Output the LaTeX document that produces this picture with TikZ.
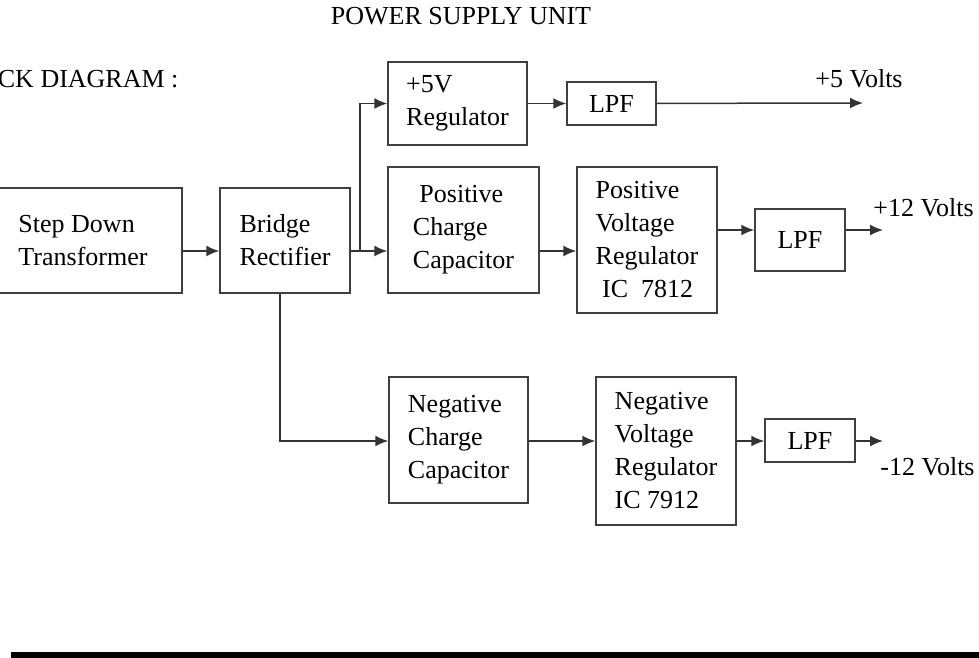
\documentclass[tikz,border=0pt]{standalone}
\usepackage{fontspec}
\setmainfont{Liberation Serif}
\usetikzlibrary{arrows.meta}

\begin{document}
\begin{tikzpicture}[x=1pt, y=-1pt, >={Latex[length=13pt,width=11pt]},
  font=\fontsize{26}{33}\selectfont,
  box/.style={draw=black!75, line width=1.5pt, align=left, inner sep=0pt},
  wire/.style={draw=black!80, line width=1.5pt}]
\useasboundingbox (0,0) rectangle (979,658);
\node (title) [anchor=base] at (461,25) {POWER SUPPLY UNIT};
\node (bd) [anchor=base east] at (182,88) {BLOCK DIAGRAM :};

\node (T) [box, minimum width=198pt, minimum height=105pt] at (83,240.5) {Step Down\\Transformer};
\node (B) [box, minimum width=130pt, minimum height=105pt] at (285,240.5) {Bridge\\Rectifier};
\node (R5) [box, minimum width=139pt, minimum height=83pt] at (457.5,103.5) {+5V\\Regulator};
\node (L5) [box, minimum width=89pt, minimum height=43pt] at (611.5,103.5) {LPF};
\node (PC) [box, minimum width=151pt, minimum height=126pt] at (463.5,230) {\ Positive\\Charge\\Capacitor};
\node (PR) [box, minimum width=140pt, minimum height=146pt] at (647,240) {Positive\\Voltage\\Regulator\\\ IC\ \ 7812};
\node (L12) [box, minimum width=90pt, minimum height=62pt] at (800,240) {LPF};
\node (NC) [box, minimum width=139pt, minimum height=126pt] at (458.5,440) {Negative\\Charge\\Capacitor};
\node (NR) [box, minimum width=140pt, minimum height=148pt] at (666,451) {Negative\\Voltage\\Regulator\\IC 7912};
\node (LN) [box, minimum width=90pt, minimum height=43pt] at (810,440.5) {LPF};

\node (v5) [anchor=base] at (859,88) {+5 Volts};
\node (v12) [anchor=base] at (923.5,216) {+12 Volts};
\node (vn) [anchor=base] at (927.5,475) {-12 Volts};
\coordinate (o5) at (863,103);
\coordinate (o12) at (883,230);
\coordinate (on) at (883,441);
\coordinate (fork) at (360,251);
\coordinate (down) at (280,441);

\draw[wire, ->] ([yshift=-10.5pt]T.east) -- ([yshift=-10.5pt]B.west);
\draw[wire] (B.east |- fork) -- (fork);
\draw[wire, ->] (fork) -- (fork -| PC.west);
\draw[wire, ->] (fork) |- (R5.west);
\draw[wire, ->] (R5) -- (L5);
\draw[wire, ->] (L5) -- (o5);
\draw[wire, ->] ([yshift=-21pt]PC.east) -- ([yshift=-21pt]PC.east -| PR.west);
\draw[wire, ->] ([yshift=10pt]PR.east) -- ([yshift=10pt]L12.west);
\draw[wire, ->] ([yshift=10pt]L12.east) -- (o12);
\draw[wire, ->] (B.south -| down) -- (down) -- (down -| NC.west);
\draw[wire, ->] (NC.east |- down) -- (NR.west |- down);
\draw[wire, ->] (NR.east |- down) -- (LN.west |- down);
\draw[wire, ->] (LN.east |- down) -- (on);

\fill (11,652) rectangle (979,658);
\end{tikzpicture}
\end{document}
